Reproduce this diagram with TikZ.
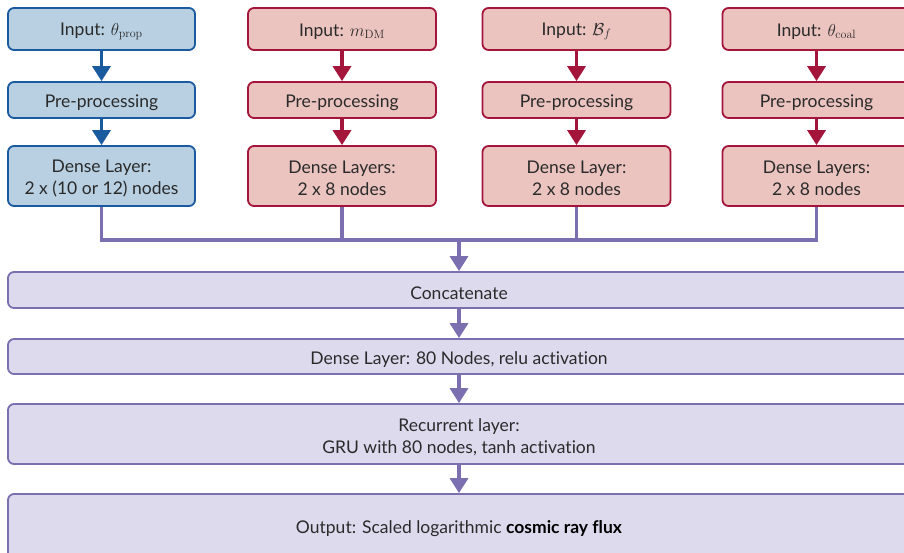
\documentclass[tikz,border=0pt]{standalone}
\usepackage[no-math]{fontspec}
\setmainfont{Lato}[Ligatures=CommonOff]
\usetikzlibrary{arrows.meta}
\definecolor{bfill}{HTML}{B8D0E2}
\definecolor{bline}{HTML}{1A5A9E}
\definecolor{rfill}{HTML}{EBC4C0}
\definecolor{rline}{HTML}{A3153B}
\definecolor{pfill}{HTML}{DEDAEE}
\definecolor{pline}{HTML}{7B6FB0}
\definecolor{txt}{HTML}{2A2A2A}
\tikzset{
  box/.style={draw, line width=1.8pt, rounded corners=6pt, inner sep=0pt},
  lbl/.style={align=center, text=txt, font=\fontsize{17.5}{22}\selectfont, inner sep=0pt},
  bluebox/.style={box, fill=bfill, draw=bline, minimum width=187pt},
  redbox/.style={box, fill=rfill, draw=rline, minimum width=188pt},
  widebox/.style={box, fill=pfill, draw=pline, minimum width=902pt},
  arr/.style={line width=3.4pt, -{Triangle[width=18pt,length=15pt]}},
  barrow/.style={arr, draw=bline, fill=bline},
  rarrow/.style={arr, draw=rline, fill=rline},
  parrow/.style={arr, draw=pline, fill=pline},
  busline/.style={line width=3.2pt, draw=pline},
}
\newcommand{\boxtext}[3]{\node[lbl] (#1) at ([yshift=-#2]#1box) {#3};}
\begin{document}
\begin{tikzpicture}[x=1pt,y=-1pt]
\useasboundingbox (0,0) rectangle (904,552);
% column 1
\node[bluebox, minimum height=42pt] (i1box) at (101.5,29) {};
\node[bluebox, minimum height=36pt] (p1box) at (101.5,100) {};
\node[bluebox, minimum height=60pt] (d1box) at (101.5,176) {};
% column 2
\node[redbox, minimum height=42pt] (i2box) at (342,29) {};
\node[redbox, minimum height=36pt] (p2box) at (342,100) {};
\node[redbox, minimum height=60pt] (d2box) at (342,176) {};
% column 3
\node[redbox, minimum height=42pt] (i3box) at (576.5,29) {};
\node[redbox, minimum height=36pt] (p3box) at (576.5,100) {};
\node[redbox, minimum height=60pt] (d3box) at (576.5,176) {};
% column 4
\node[redbox, minimum height=42pt] (i4box) at (816.5,29) {};
\node[redbox, minimum height=36pt] (p4box) at (816.5,100) {};
\node[redbox, minimum height=60pt] (d4box) at (816.5,176) {};
% wide boxes
\node[widebox, minimum height=36pt] (catbox) at (459,290) {};
\node[widebox, minimum height=35pt] (dlbox) at (459,356.5) {};
\node[widebox, minimum height=60pt] (rlbox) at (459,434) {};
\node[widebox, minimum height=66pt] (outbox) at (459,527) {};
% texts
\boxtext{i1}{2.5pt}{Input: $\theta_{\mathrm{prop}}$}
\boxtext{p1}{2.5pt}{Pre-processing}
\boxtext{d1}{2.5pt}{Dense Layer:\\2 x (10 or 12) nodes}
\boxtext{i2}{2.5pt}{Input: $m_{\mathrm{DM}}$}
\boxtext{p2}{2.5pt}{Pre-processing}
\boxtext{d2}{2.5pt}{Dense Layers:\\2 x 8 nodes}
\boxtext{i3}{2.5pt}{Input: $\mathcal{B}_f$}
\boxtext{p3}{2.5pt}{Pre-processing}
\boxtext{d3}{2.5pt}{Dense Layer:\\2 x 8 nodes}
\boxtext{i4}{2.5pt}{Input: $\theta_{\mathrm{coal}}$}
\boxtext{p4}{2.5pt}{Pre-processing}
\boxtext{d4}{2.5pt}{Dense Layers:\\2 x 8 nodes}
\boxtext{cat}{3pt}{Concatenate}
\boxtext{dl}{3pt}{Dense Layer: 80 Nodes, relu activation}
\boxtext{rl}{3pt}{Recurrent layer:\\GRU with 80 nodes, tanh activation}
\boxtext{out}{2pt}{Output: Scaled logarithmic {\color{black}\bfseries cosmic ray flux}}
% arrows in columns
\draw[barrow] (i1box) -- (p1box);
\draw[barrow] (p1box) -- (d1box);
\draw[rarrow] (i2box) -- (p2box);
\draw[rarrow] (p2box) -- (d2box);
\draw[rarrow] (i3box) -- (p3box);
\draw[rarrow] (p3box) -- (d3box);
\draw[rarrow] (i4box) -- (p4box);
\draw[rarrow] (p4box) -- (d4box);
% bus
\coordinate (j) at (459,240);
\draw[busline] (d1box.south) -- (d1box.south |- j) -- (d4box.south |- j) -- (d4box.south);
\draw[busline] (d2box.south) -- (d2box.south |- j);
\draw[busline] (d3box.south) -- (d3box.south |- j);
\draw[parrow] (j) -- (catbox.north);
\draw[parrow] (catbox) -- (dlbox);
\draw[parrow] (dlbox) -- (rlbox);
\draw[parrow] (rlbox) -- (outbox);
\end{tikzpicture}
\end{document}
